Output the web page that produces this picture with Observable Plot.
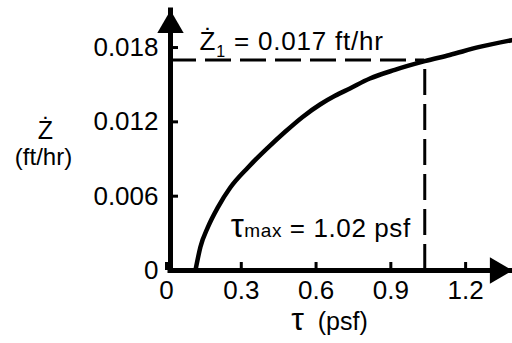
<!DOCTYPE html>
<html>
<head>
<meta charset="utf-8">
<script src="https://cdn.jsdelivr.net/npm/d3@7"></script>
<script src="https://cdn.jsdelivr.net/npm/@observablehq/plot@0.6"></script>
<style>
  html, body { margin: 0; padding: 0; background: #fff; }
  #chart svg { display: block; }
</style>
</head>
<body>
<div id="chart"></div>
<script>
// ---- data ----
const tau  = [0.10, 0.12, 0.15, 0.19, 0.24, 0.31, 0.39, 0.46, 0.53, 0.60, 0.66, 0.72, 0.80, 0.90, 1.02, 1.12, 1.24, 1.37];
const zdot = [0, 0.0019, 0.0035, 0.0051, 0.0067, 0.0083, 0.0099, 0.0112, 0.0124, 0.0134, 0.0141, 0.0147, 0.0155, 0.0162, 0.0169, 0.0174, 0.01805, 0.0186];

const xTicks = [0, 0.3, 0.6, 0.9, 1.2];
const xTickLabels = ["0", "0.3", "0.6", "0.9", "1.2"];
const yTicks = [0, 0.006, 0.012, 0.018];
const yTickLabels = ["0", "0.006", "0.012", "0.018"];

const tauMax = 1.02;     // psf
const zdot1 = 0.017;     // ft/hr
const xDomain = [0, 1.372];
const yDomain = [0, 0.02099];

const zLabelParts   = [{text: "Ż"}, {text: "1", size: 16, dy: 7}, {text: " = 0.017 ft/hr", dy: -7}];
const tauLabelParts = [{text: "τ", size: 33}, {text: "max", size: 19}, {text: " = 1.02 psf"}];
const xTitleParts   = [{text: "τ", size: 32}, {text: "\u00a0 (psf)"}];
const yTitle1 = "Ż";
const yTitle2 = "(ft/hr)";

const curve = tau.map((t, i) => ({tau: t, zdot: zdot[i]}));
const joinParts = parts => parts.map(p => p.text).join("");

const FONT = "'Liberation Sans', Arial, Helvetica, sans-serif";

const chart = Plot.plot({
  width: 512,
  height: 343,
  marginLeft: 170,
  marginRight: 0,
  marginTop: 10,
  marginBottom: 73,
  style: {fontFamily: FONT, fontSize: "25px", color: "#000", background: "#fff", overflow: "visible"},
  x: {domain: xDomain},
  y: {domain: yDomain},
  marks: [
    // dashed guides
    Plot.ruleY([zdot1], {x1: 0, x2: tauMax, stroke: "#000", strokeWidth: 3, strokeDasharray: "26,9"}),
    Plot.ruleX([tauMax], {y1: 0, y2: zdot1, stroke: "#000", strokeWidth: 3, strokeDasharray: "26,9"}),
    // axes
    Plot.axisX({ticks: xTicks, tickFormat: d => xTickLabels[xTicks.indexOf(d)], tickSize: -8, tickPadding: 18, strokeWidth: 3, label: null, fontSize: 26, dx: -4}),
    Plot.axisY({ticks: yTicks, tickFormat: d => yTickLabels[yTicks.indexOf(d)], tickSize: -8, tickPadding: 20, strokeWidth: 3, label: null, fontSize: 26}),
    Plot.ruleX([0], {y1: 0, y2: yDomain[1], stroke: "#000", strokeWidth: 5, strokeLinecap: "square"}),
    Plot.ruleY([0], {x1: 0, x2: xDomain[1], stroke: "#000", strokeWidth: 5, strokeLinecap: "square"}),
    Plot.dot([yDomain[1]], {x: 0, y: d => d, symbol: "triangle", r: 9.8, fill: "#000", dy: 15}),
    Plot.dot([xDomain[1]], {x: d => d, y: 0, symbol: "triangle", rotate: 90, r: 9.8, fill: "#000", dx: -15}),
    // curve
    Plot.line(curve, {x: "tau", y: "zdot", curve: "monotone-x", stroke: "#000", strokeWidth: 4.5}),
    // annotations
    Plot.text([zdot1], {x: 0, y: d => d, text: d => joinParts(zLabelParts), textAnchor: "start", dx: 29, dy: -18, fontSize: 26, fill: "#000"}),
    Plot.text([tauMax], {x: d => d, y: 0, text: d => joinParts(tauLabelParts), textAnchor: "end", dx: -14, dy: -42, fontSize: 26, fill: "#000"}),
    Plot.text([0], {frameAnchor: "bottom", text: d => joinParts(xTitleParts), textAnchor: "middle", dx: -12, dy: 59, fontSize: 25, fill: "#000"}),
    Plot.text([yTitle1], {frameAnchor: "left", text: d => d, textAnchor: "middle", dx: -125, dy: -10, fontSize: 25, fill: "#000"}),
    Plot.text([yTitle2], {frameAnchor: "left", text: d => d, textAnchor: "middle", dx: -127, dy: 17, fontSize: 24, fill: "#000"})
  ]
});

function richText(svg, parts, spacing) {
  const full = joinParts(parts);
  svg.querySelectorAll("text").forEach(t => {
    if (t.textContent !== full) return;
    while (t.firstChild) t.removeChild(t.firstChild);
    if (spacing) t.setAttribute("letter-spacing", spacing);
    for (const p of parts) {
      const ts = document.createElementNS("http://www.w3.org/2000/svg", "tspan");
      ts.textContent = p.text;
      if (p.size) ts.setAttribute("font-size", p.size);
      if (p.dy) ts.setAttribute("dy", p.dy);
      t.appendChild(ts);
    }
  });
}
richText(chart, zLabelParts, 0.8);
richText(chart, tauLabelParts, 0.6);
richText(chart, xTitleParts, 0);

document.getElementById("chart").appendChild(chart);
</script>
</body>
</html>
